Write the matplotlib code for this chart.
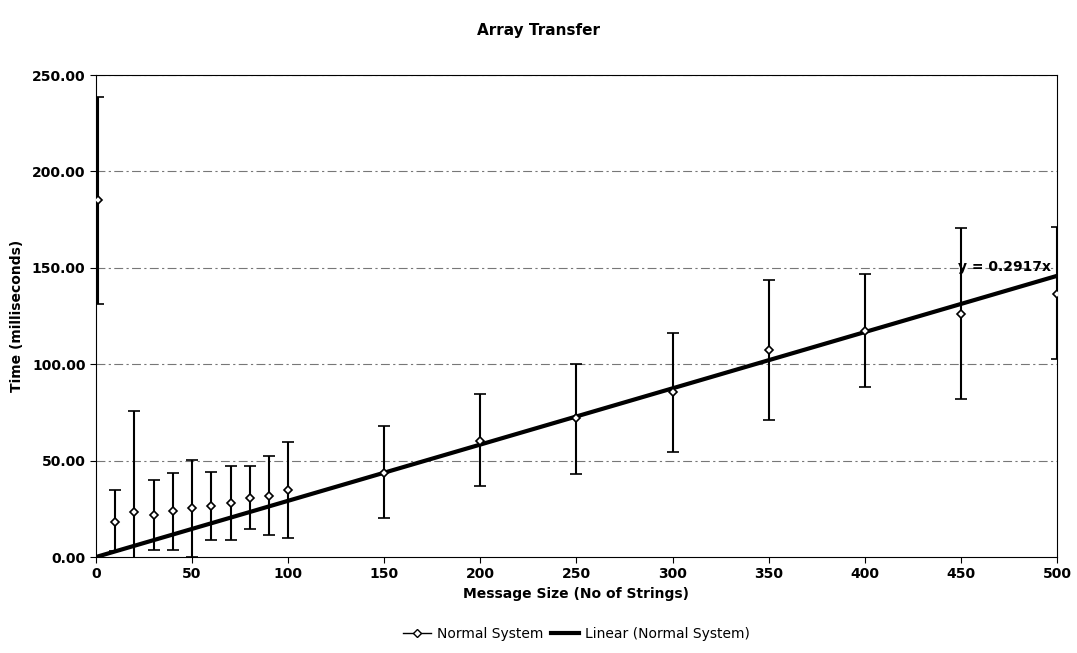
import numpy as np
import matplotlib.pyplot as plt
from matplotlib.lines import Line2D

# Message size vs transfer time
sizes = [1, 10, 20, 30, 40, 50, 60, 70, 80, 90, 100,
         150, 200, 250, 300, 350, 400, 450, 500]
mean_ms = [185.2, 18.3, 23.3, 22.0, 23.7, 25.2, 26.5, 27.8, 30.6, 31.6, 34.8,
           43.6, 60.1, 72.2, 85.8, 107.4, 117.0, 126.2, 136.6]
upper_ms = [238.6, 34.6, 75.7, 39.8, 43.7, 50.1, 44.1, 47.2, 47.2, 52.4, 59.6,
            67.9, 84.7, 100.3, 116.2, 143.8, 146.8, 170.6, 171.2]
lower_ms = [131.4, 3.1, -1.0, 3.6, 3.6, 0.0, 9.0, 8.6, 14.3, 11.6, 10.0,
            20.0, 36.6, 43.1, 54.5, 71.1, 88.0, 81.8, 102.8]
slope = 0.2917

x = np.array(sizes)
y = np.array(mean_ms)
yerr = [y - np.array(lower_ms), np.array(upper_ms) - y]

fig = plt.figure(figsize=(10.77, 6.53), dpi=100)
ax = fig.add_axes([0.0891, 0.147, 0.8923, 0.738])

for v in [50, 100, 150, 200, 250]:
    ax.axhline(v, color='#777777', lw=0.8, ls=(0, (8, 3, 2, 3)), zorder=0)

ax.errorbar(x, y, yerr=yerr, fmt='D', ms=4, mfc='white', mec='black', mew=1.2,
            ecolor='black', elinewidth=1.5, capsize=4, capthick=1.5,
            color='black', zorder=3)

xs = np.array([0, 500])
ax.plot(xs, slope * xs, color='black', lw=3, zorder=2)
ax.text(497, slope * 500 + 1, 'y = 0.2917x', ha='right', va='bottom',
        fontsize=10, fontweight='bold')

ax.set_xlim(0, 500)
ax.set_ylim(0, 250)
ax.set_xticks(range(0, 501, 50))
ax.set_yticks(range(0, 251, 50))
ax.set_yticklabels([f'{v:.2f}' for v in range(0, 251, 50)])
ax.tick_params(labelsize=10, length=4)
for lbl in ax.get_xticklabels() + ax.get_yticklabels():
    lbl.set_fontweight('bold')

ax.set_xlabel('Message Size (No of Strings)', fontsize=10, fontweight='bold', labelpad=4)
ax.set_ylabel('Time (milliseconds)', fontsize=10, fontweight='bold', labelpad=6)
fig.suptitle('Array Transfer', x=0.5, y=0.965, fontsize=11, fontweight='bold')

handles = [
    Line2D([], [], color='black', lw=1, marker='D', ms=4, mfc='white', mec='black'),
    Line2D([], [], color='black', lw=3),
]
ax.legend(handles, ['Normal System', 'Linear (Normal System)'],
          loc='center', bbox_to_anchor=(0.5, -0.16), ncol=2, frameon=False,
          fontsize=10, handlelength=2, columnspacing=0.6, handletextpad=0.4)

fig.savefig('out.png', dpi=100)
